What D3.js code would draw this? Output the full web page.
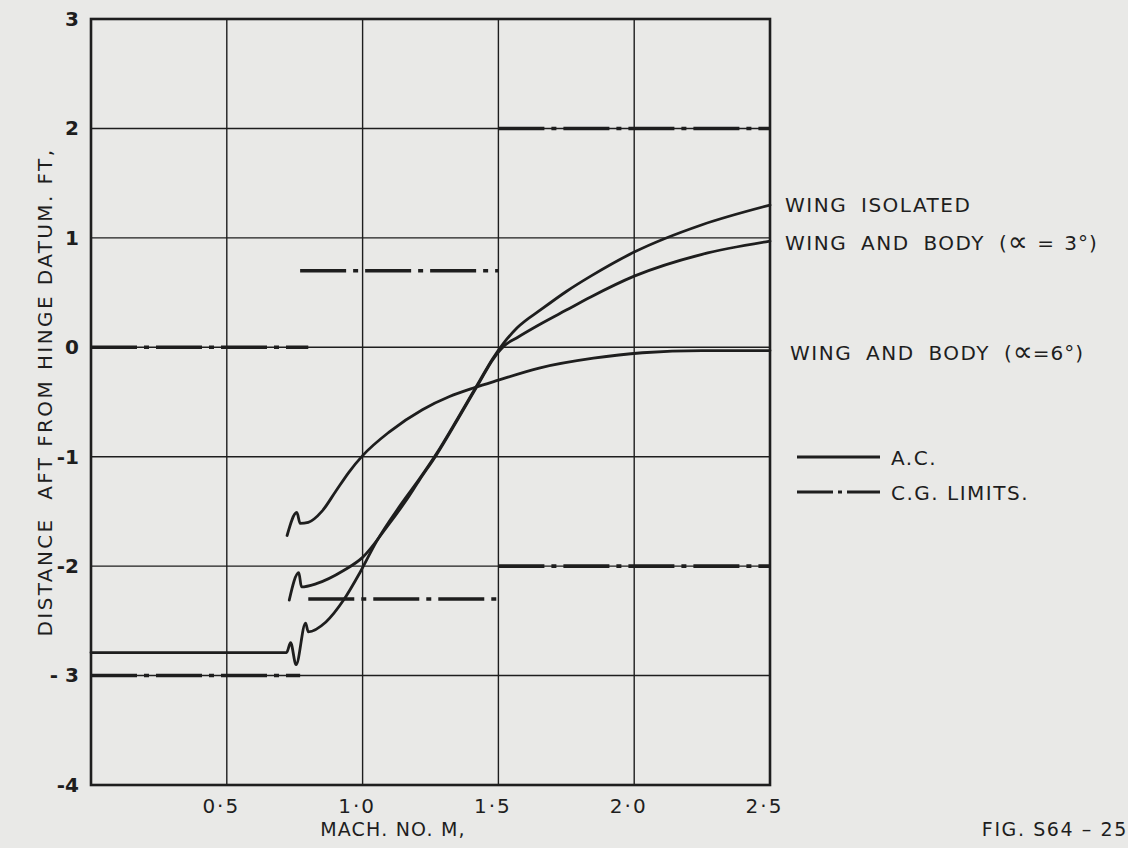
<!DOCTYPE html>
<html><head><meta charset="utf-8">
<script src="https://cdn.jsdelivr.net/npm/d3@7"></script>
<style>
html,body{margin:0;padding:0;background:#e9e9e7;}
svg{display:block;}
text{font-family:"DejaVu Sans","Liberation Sans",sans-serif;fill:#1e1e1e;}
</style></head>
<body>
<svg id="chart" width="1128" height="848"></svg>
<script>
// ---- data ----
const xTicks = [0.5, 1.0, 1.5, 2.0, 2.5];
const xTickLabels = ["0·5", "1·0", "1·5", "2·0", "2·5"];
const yTicks = [3, 2, 1, 0, -1, -2, -3, -4];
const yTickLabels = ["3", "2", "1", "0", "-1", "-2", "- 3", "-4"];

// A.C. curves (Mach, distance ft)
const wingIsoMach = [0, 0.35, 0.70, 0.72, 0.735, 0.755, 0.79, 0.80, 0.865, 0.93, 0.99, 1.05, 1.14, 1.21, 1.27, 1.35, 1.43, 1.48, 1.52, 1.57, 1.66, 1.75, 1.84, 2.0, 2.25, 2.5];
const wingIsoDist = [-2.79, -2.79, -2.79, -2.79, -2.70, -2.90, -2.52, -2.60, -2.51, -2.31, -2.06, -1.78, -1.44, -1.20, -0.98, -0.65, -0.31, -0.10, 0.04, 0.18, 0.35, 0.51, 0.65, 0.87, 1.12, 1.30];

const body3Mach = [0.73, 0.765, 0.775, 0.83, 0.93, 1.0, 1.09, 1.16, 1.21, 1.27, 1.35, 1.43, 1.48, 1.52, 1.57, 1.66, 1.75, 1.84, 2.0, 2.25, 2.5];
const body3Dist = [-2.31, -2.06, -2.19, -2.16, -2.04, -1.92, -1.64, -1.40, -1.21, -0.99, -0.66, -0.32, -0.11, 0.01, 0.09, 0.22, 0.34, 0.46, 0.65, 0.85, 0.97];

const body6Mach = [0.722, 0.758, 0.77, 0.80, 0.85, 0.90, 0.95, 1.0, 1.10, 1.22, 1.32, 1.41, 1.50, 1.65, 1.85, 2.03, 2.25, 2.5];
const body6Dist = [-1.72, -1.51, -1.61, -1.60, -1.50, -1.32, -1.14, -0.99, -0.77, -0.57, -0.45, -0.37, -0.30, -0.19, -0.10, -0.05, -0.03, -0.03];

// C.G. limits (horizontal dash-dot segments)
const cgStart = [0, 0, 0.77, 0.80, 1.5, 1.5];
const cgEnd   = [0.80, 0.77, 1.5, 1.5, 2.5, 2.5];
const cgValue = [0, -3, 0.70, -2.30, 2, -2];

const seriesLabelMain = ["WING ISOLATED", "WING AND BODY", "WING AND BODY"];
const seriesAlpha = ["", " = 3\u00B0)", "=6\u00B0)"];
const seriesLabelValues = [1.30, 0.97, -0.03];
const legendLabels = ["A.C.", "C.G. LIMITS."];

// ---- drawing ----
const svg = d3.select("#chart");
const x = d3.scaleLinear().domain([0, 2.5]).range([91, 770]);
const y = d3.scaleLinear().domain([-4, 3]).range([785, 19]);
const ink = "#1e1e1e";

// grid
const g = svg.append("g");
g.selectAll("line.vg").data(xTicks).join("line")
  .attr("x1", d => x(d)).attr("x2", d => x(d))
  .attr("y1", y(3)).attr("y2", y(-4))
  .attr("stroke", ink).attr("stroke-width", 1.4);
g.selectAll("line.hg").data(yTicks).join("line")
  .attr("x1", x(0)).attr("x2", x(2.5))
  .attr("y1", d => y(d)).attr("y2", d => y(d))
  .attr("stroke", ink).attr("stroke-width", 1.4);

// frame
svg.append("rect").attr("x", x(0)).attr("y", y(3))
  .attr("width", x(2.5) - x(0)).attr("height", y(-4) - y(3))
  .attr("fill", "none").attr("stroke", ink).attr("stroke-width", 2.6);

// axes (labels only, via d3 axis)
const xAxis = d3.axisBottom(x).tickValues(xTicks).tickFormat((d, i) => xTickLabels[i]).tickSize(0).tickPadding(14);
const xa = svg.append("g").attr("transform", `translate(0,${y(-4)})`).call(xAxis);
xa.select(".domain").remove();
xa.selectAll("text").attr("font-size", 20).attr("dx", -6).attr("letter-spacing", 2).style("font-family", '"DejaVu Sans",sans-serif');

const yAxis = d3.axisLeft(y).tickValues(yTicks).tickFormat((d, i) => yTickLabels[i]).tickSize(0).tickPadding(12);
const ya = svg.append("g").attr("transform", `translate(${x(0)},0)`).call(yAxis);
ya.select(".domain").remove();
ya.selectAll("text").attr("font-size", 20).attr("font-weight", "bold").style("font-family", '"DejaVu Sans",sans-serif');

// axis titles
svg.append("text").attr("x", 393).attr("y", 836).attr("text-anchor", "middle")
  .attr("font-size", 19).attr("letter-spacing", 1.2).text("MACH. NO. M,");
svg.append("text").attr("transform", "translate(52,392) rotate(-90)").attr("text-anchor", "middle")
  .attr("font-size", 20).attr("letter-spacing", 2.4).attr("xml:space", "preserve").text("DISTANCE  AFT FROM HINGE DATUM. FT,");
svg.append("text").attr("x", 1128).attr("y", 836).attr("text-anchor", "end")
  .attr("font-size", 19).attr("letter-spacing", 1.6).attr("xml:space", "preserve").text("FIG. S64 \u2013 25");

// C.G. limits
const cgDash = "46,7,5,7";
svg.selectAll("line.cg").data(cgValue).join("line")
  .attr("x1", (d, i) => x(cgStart[i])).attr("x2", (d, i) => x(cgEnd[i]))
  .attr("y1", d => y(d)).attr("y2", d => y(d))
  .attr("stroke", ink).attr("stroke-width", 3.6).attr("stroke-dasharray", cgDash);

// A.C. curves
const line = d3.line().x(d => x(d[0])).y(d => y(d[1])).curve(d3.curveMonotoneX);
const curves = [
  d3.zip(wingIsoMach, wingIsoDist),
  d3.zip(body3Mach, body3Dist),
  d3.zip(body6Mach, body6Dist)
];
svg.selectAll("path.ac").data(curves).join("path")
  .attr("d", line).attr("fill", "none").attr("stroke", ink)
  .attr("stroke-width", 2.8).attr("stroke-linejoin", "round").attr("stroke-linecap", "round");

// series labels
svg.selectAll("text.sl").data(seriesLabelMain).join("text")
  .attr("x", (d, i) => i === 2 ? 790 : 785)
  .attr("y", (d, i) => y(seriesLabelValues[i]) + (i === 0 ? 7 : 9))
  .attr("font-size", 20).attr("letter-spacing", 1.5).attr("word-spacing", 6)
  .attr("xml:space", "preserve")
  .each(function (d, i) {
    const t = d3.select(this);
    t.append("tspan").text(d);
    if (seriesAlpha[i] !== "") {
      t.append("tspan").attr("dx", 14).attr("letter-spacing", 1).text("(");
      t.append("tspan").attr("font-size", 28).attr("dy", 1).attr("letter-spacing", 0).text("\u221D");
      t.append("tspan").attr("dy", -1).attr("letter-spacing", 1).attr("word-spacing", 2).text(seriesAlpha[i]);
    }
  });

// legend
const legY = [457, 492];
svg.selectAll("line.leg").data(legendLabels).join("line")
  .attr("x1", 797).attr("x2", 880)
  .attr("y1", (d, i) => legY[i]).attr("y2", (d, i) => legY[i])
  .attr("stroke", ink).attr("stroke-width", 3)
  .attr("stroke-dasharray", (d, i) => i === 0 ? null : "36,5,4,5");
svg.selectAll("text.leg").data(legendLabels).join("text")
  .attr("x", 891).attr("y", (d, i) => legY[i] + 8)
  .attr("font-size", 20).attr("letter-spacing", 1.5)
  .text(d => d);
</script>
</body></html>
